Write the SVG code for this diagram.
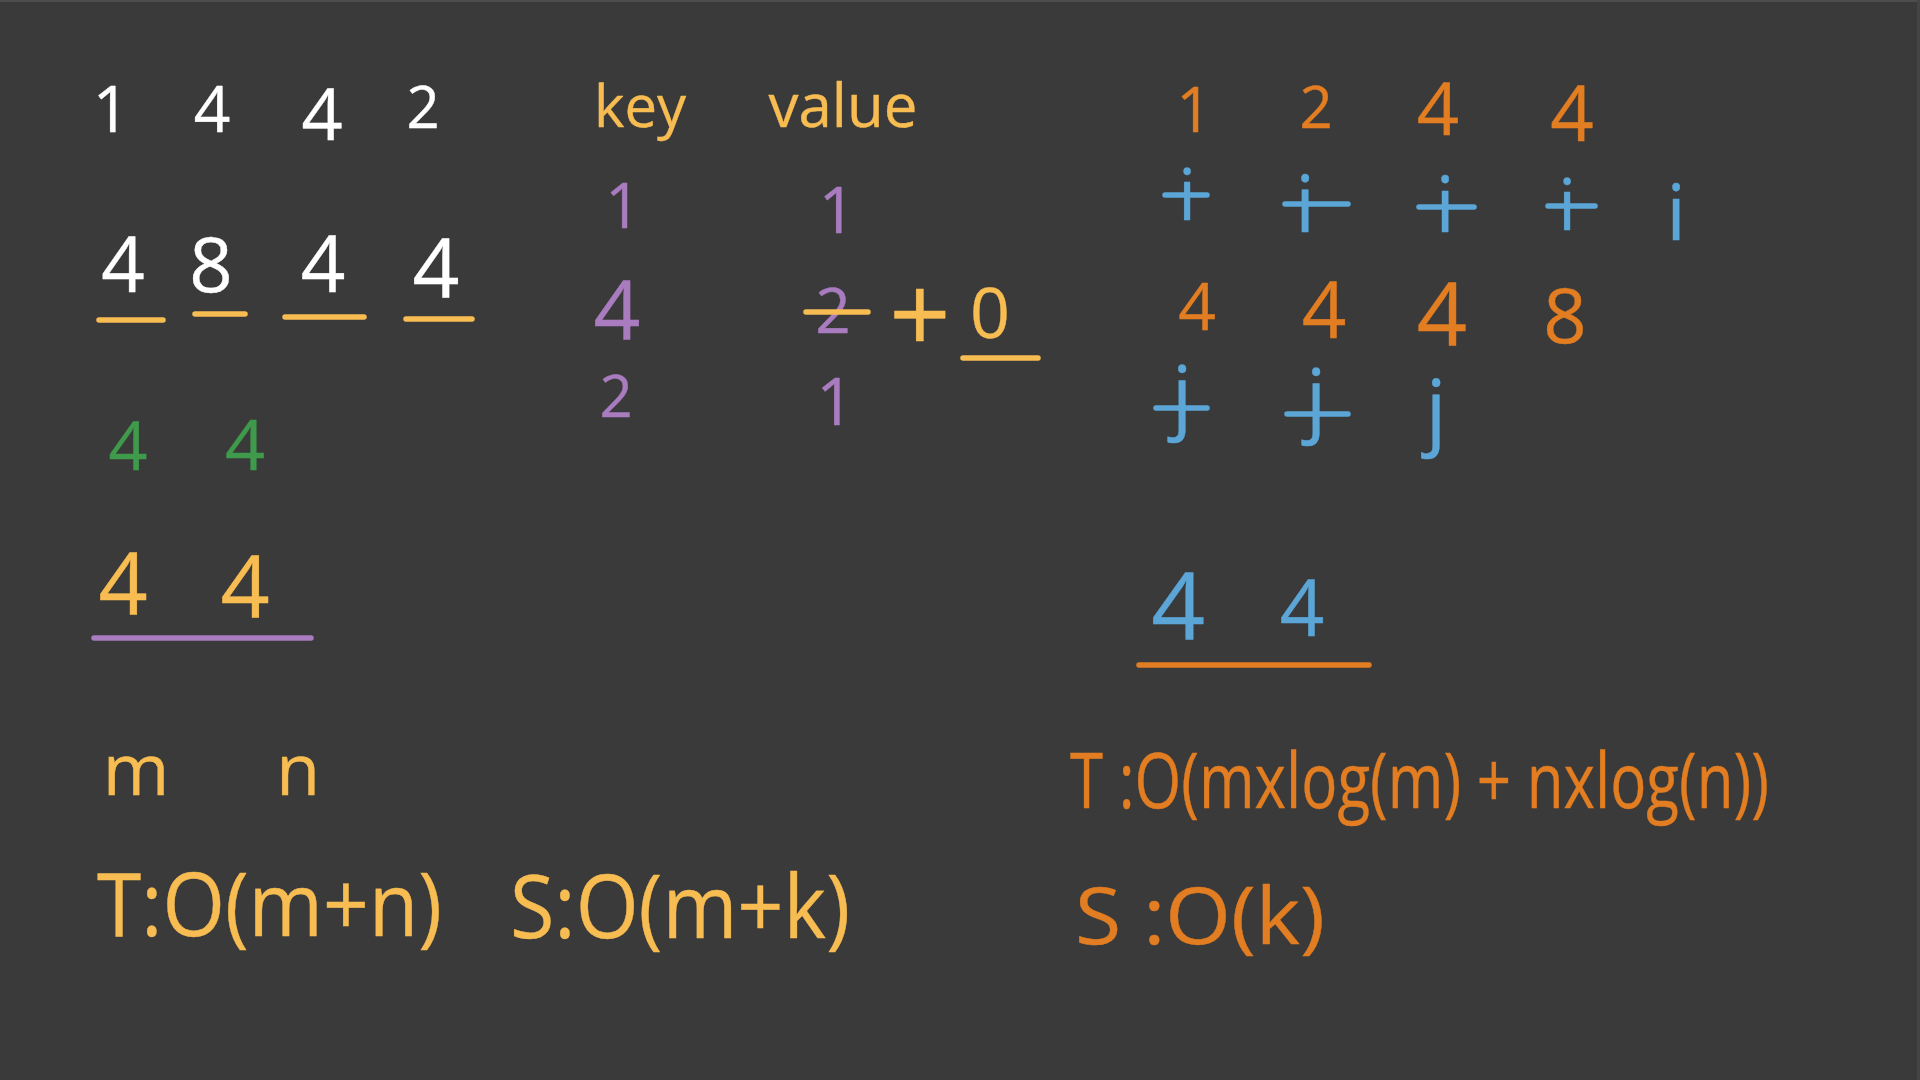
<svg xmlns="http://www.w3.org/2000/svg" width="1920" height="1080" viewBox="0 0 1920 1080">
<style>
text{font-family:"Open Sans","DejaVu Sans",sans-serif;text-anchor:middle;stroke-width:0.4;stroke-linejoin:round}
.w{fill:#ffffff;stroke:#ffffff}
.y{fill:#f8bd52;stroke:#f8bd52}
.p{fill:#a97bbf;stroke:#a97bbf}
.g{fill:#3f9a4b;stroke:#3f9a4b}
.o{fill:#e27d22;stroke:#e27d22}
.b{fill:#5ba6d7;stroke:#5ba6d7}
.st{fill:none;stroke-width:5.5;stroke-linecap:round}
.sy{stroke:#f8bd52}.sp{stroke:#a97bbf}.so{stroke:#e27d22}.sb{stroke:#5ba6d7}
.l{text-anchor:start}
</style>
<rect x="0" y="0" width="1920" height="1080" fill="#3a3a3a"/>
<rect x="0" y="0" width="1920" height="2" fill="#4d4d4d"/>
<rect x="1917" y="0" width="3" height="1080" fill="#444444"/>

<g id="input-row1">
<text class="w" x="111" y="132" font-size="64">1</text>
<text class="w" x="212" y="132" font-size="64">4</text>
<text class="w" x="322" y="140" font-size="72">4</text>
<text class="w" x="423" y="128" font-size="58">2</text>
</g>
<g id="input-row2">
<text class="w" x="123" y="292" font-size="76">4</text>
<text class="w" x="211" y="292" font-size="76">8</text>
<text class="w" x="323" y="292" font-size="78">4</text>
<text class="w" x="436" y="298" font-size="82">4</text>
<line class="st sy" x1="99" y1="320" x2="163" y2="320"/>
<line class="st sy" x1="195" y1="314" x2="245" y2="314"/>
<line class="st sy" x1="285" y1="317" x2="364" y2="317"/>
<line class="st sy" x1="406" y1="319" x2="472" y2="319"/>
</g>
<g id="green-result">
<text class="g" x="128" y="470" font-size="68">4</text>
<text class="g" x="245" y="470" font-size="70">4</text>
</g>
<g id="yellow-result">
<text class="y" x="123" y="614" font-size="86">4</text>
<text class="y" x="245" y="617" font-size="86">4</text>
<line class="st sp" x1="94" y1="638" x2="311" y2="638"/>
</g>
<g id="m-n">
<text class="y" x="136" y="795" font-size="72">m</text>
<text class="y" x="298" y="795" font-size="72">n</text>
</g>
<g id="complexity-left">
<text class="y l" x="97" y="936" font-size="88" textLength="345" lengthAdjust="spacingAndGlyphs">T:O(m+n)</text>
<text class="y l" x="510" y="938" font-size="88" textLength="340" lengthAdjust="spacingAndGlyphs">S:O(m+k)</text>
</g>

<g id="hash-table">
<text class="y" x="640" y="127" font-size="58">key</text>
<text class="y" x="843" y="127" font-size="60">value</text>
<text class="p" x="623" y="228" font-size="62">1</text>
<text class="p" x="837" y="233" font-size="64">1</text>
<text class="p" x="617" y="340" font-size="82">4</text>
<text class="p" x="833" y="333" font-size="62">2</text>
<line class="st sy" x1="806" y1="312" x2="868" y2="312"/>
<text class="y" x="920" y="353" font-size="108">+</text>
<text class="y" x="990" y="338" font-size="70">0</text>
<line class="st sy" x1="963" y1="358" x2="1038" y2="358"/>
<text class="p" x="616" y="417" font-size="58">2</text>
<text class="p" x="835" y="425" font-size="66">1</text>
</g>

<g id="sorted-1">
<text class="o" x="1194" y="132" font-size="62">1</text>
<text class="o" x="1316" y="128" font-size="58">2</text>
<text class="o" x="1438" y="135" font-size="74">4</text>
<text class="o" x="1572" y="141" font-size="76">4</text>
</g>
<g id="pointer-i">
<text class="b" x="1187" y="220" font-size="72">i</text>
<text class="b" x="1305" y="232" font-size="78">i</text>
<text class="b" x="1445" y="232" font-size="76">i</text>
<text class="b" x="1567" y="230" font-size="72">i</text>
<text class="b" x="1676" y="240" font-size="76">i</text>
<line class="st sb" x1="1165" y1="195" x2="1207" y2="195"/>
<line class="st sb" x1="1285" y1="204" x2="1348" y2="204"/>
<line class="st sb" x1="1419" y1="207" x2="1474" y2="207"/>
<line class="st sb" x1="1548" y1="206" x2="1595" y2="206"/>
</g>
<g id="sorted-2">
<text class="o" x="1197" y="330" font-size="66">4</text>
<text class="o" x="1324" y="338" font-size="78">4</text>
<text class="o" x="1442" y="346" font-size="88">4</text>
<text class="o" x="1565" y="343" font-size="76">8</text>
</g>
<g id="pointer-j">
<text class="b" x="1182" y="424" font-size="80">j</text>
<text class="b" x="1316" y="427" font-size="80">j</text>
<text class="b" x="1436" y="439" font-size="82">j</text>
<line class="st sb" x1="1156" y1="408" x2="1207" y2="408"/>
<line class="st sb" x1="1287" y1="414" x2="1348" y2="414"/>
</g>
<g id="blue-result">
<text class="b" x="1178" y="640" font-size="94">4</text>
<text class="b" x="1302" y="636" font-size="78">4</text>
<line class="st so" x1="1139" y1="665" x2="1369" y2="665"/>
</g>
<g id="complexity-right">
<text class="o l" x="1070" y="808" font-size="76" textLength="699" lengthAdjust="spacingAndGlyphs">T :O(mxlog(m) + nxlog(n))</text>
<text class="o l" x="1075" y="944" font-size="78" textLength="250" lengthAdjust="spacingAndGlyphs">S :O(k)</text>
</g>
</svg>
